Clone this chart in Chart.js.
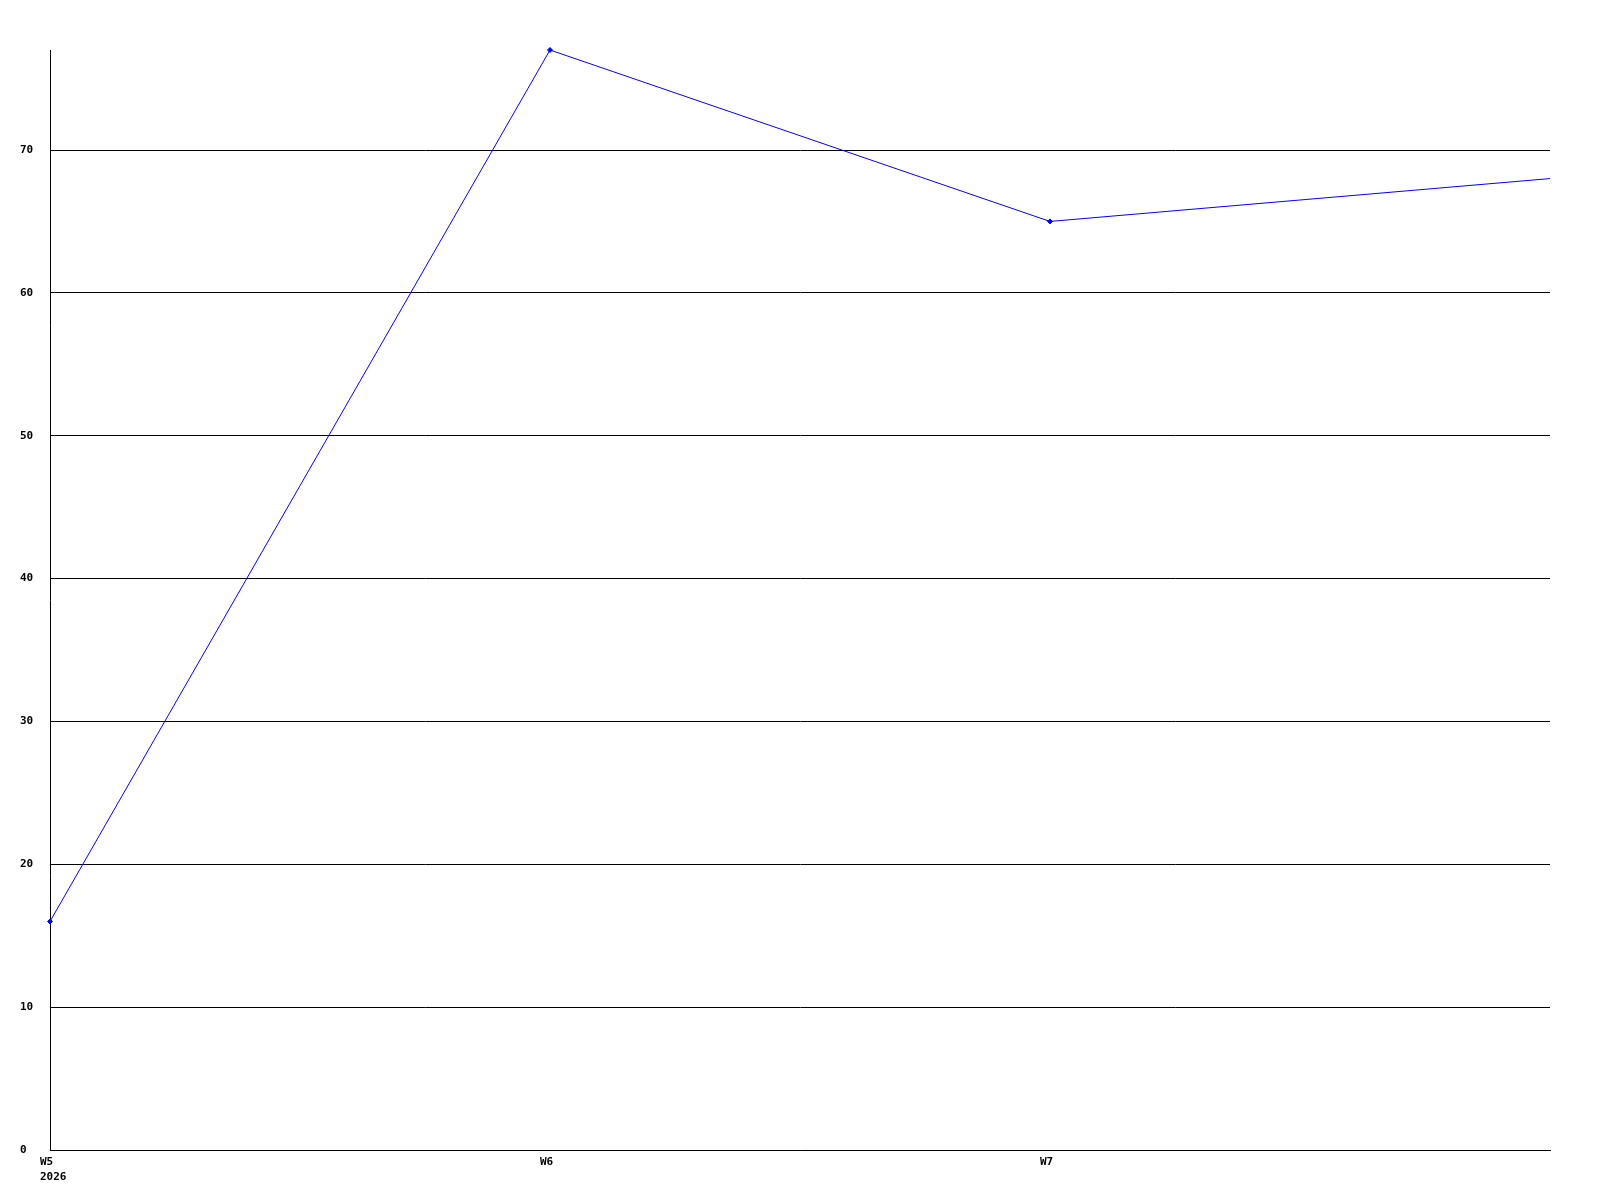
<!DOCTYPE html>
<html lang="en">
<head>
    <meta charset="utf-8">
    <title>Weekly chart</title>
    <script src="https://cdn.jsdelivr.net/npm/chart.js"></script>
    <style>
        html, body { margin: 0; padding: 0; background: #fff; }
        #wrap { width: 1600px; height: 1200px; }
    </style>
</head>
<body>
    <div id="wrap"><canvas id="weekChart"></canvas></div>
    <script>
        var weeks = ['W5', 'W6', 'W7', 'W8'];
        var weekLabels = [['W5', '2026'], ['W6'], ['W7'], []];
        var values = [16, 77, 65, 68];
        var yMax = 77;
        var yStep = 10;

        var labelFont = 'bold 11px "DejaVu Sans Mono", monospace';

        // x labels sit left-aligned, a little left of their tick
        var weekLabelPlugin = {
            id: 'weekLabels',
            afterDraw: function (chart) {
                var ctx = chart.ctx;
                var x = chart.scales.x;
                ctx.save();
                ctx.font = labelFont;
                ctx.fillStyle = '#000';
                ctx.textAlign = 'left';
                ctx.textBaseline = 'middle';
                weekLabels.forEach(function (lines, i) {
                    var px = x.getPixelForValue(i) - 10;
                    lines.forEach(function (t, j) {
                        ctx.fillText(t, px, x.top + 12 + j * 15);
                    });
                });
                ctx.restore();
            }
        };

        var ctx = document.getElementById('weekChart').getContext('2d');
        var weekChart = new Chart(ctx, {
            type: 'line',
            data: {
                labels: weeks,
                datasets: [{
                    data: values,
                    borderColor: '#0000ff',
                    backgroundColor: '#0000ff',
                    borderWidth: 1,
                    pointStyle: 'rectRot',
                    // the last week has no marker in the original
                    pointRadius: [2.5, 2.5, 2.5, 0],
                    pointBorderWidth: 1,
                    tension: 0,
                    clip: { left: false, top: false, right: 0, bottom: false }
                }]
            },
            options: {
                responsive: true,
                maintainAspectRatio: false,
                animation: false,
                layout: { padding: { left: 20, right: 50, top: 50, bottom: 50 } },
                plugins: {
                    legend: { display: false },
                    tooltip: { enabled: false }
                },
                scales: {
                    x: {
                        offset: false,
                        grid: { display: false, drawTicks: false },
                        border: { color: '#000', width: 1 },
                        ticks: { display: false },
                        afterFit: function (s) { s.height = 0; }
                    },
                    y: {
                        min: 0,
                        max: yMax,
                        ticks: {
                            stepSize: yStep,
                            crossAlign: 'far',
                            color: '#000',
                            font: { family: '"DejaVu Sans Mono", monospace', size: 11, weight: 'bold' }
                        },
                        afterBuildTicks: function (s) {
                            s.ticks = s.ticks.filter(function (t) { return t.value % yStep === 0; });
                        },
                        afterFit: function (s) { s.width = 30; },
                        grid: { color: '#000', lineWidth: 1, drawTicks: false },
                        border: { color: '#000', width: 1 }
                    }
                }
            },
            plugins: [weekLabelPlugin]
        });
    </script>
</body>
</html>
